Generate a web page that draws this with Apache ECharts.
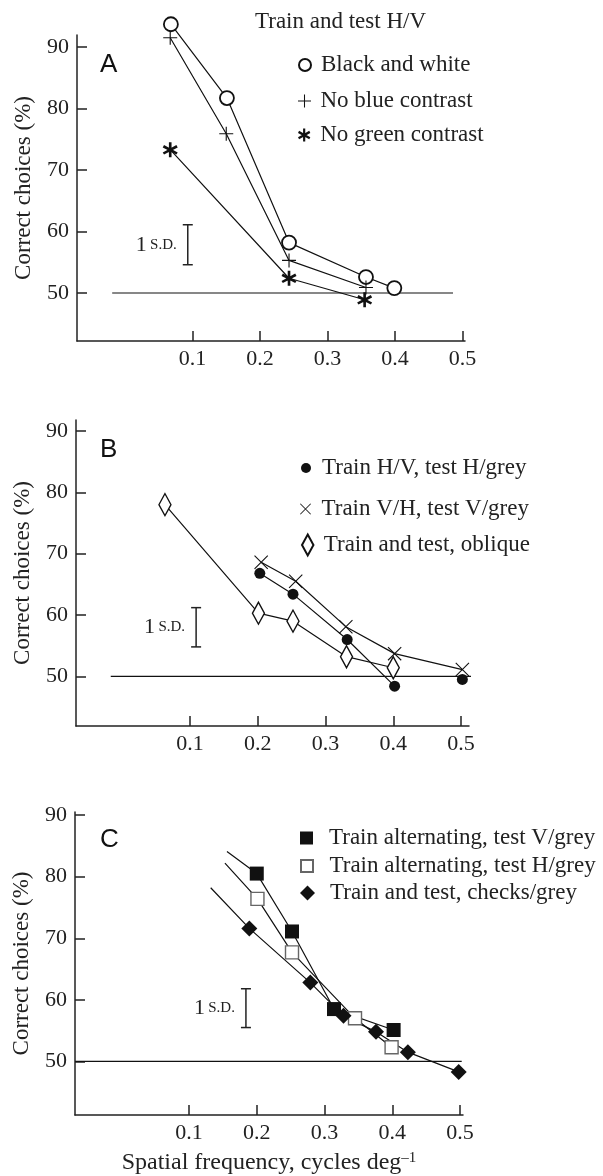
<!DOCTYPE html>
<html>
<head>
<meta charset="utf-8">
<script src="https://cdn.jsdelivr.net/npm/echarts@6/dist/echarts.min.js"></script>
<style>
html, body { margin: 0; padding: 0; background: #fff; }
#chart { width: 603px; height: 1176px; }
</style>
</head>
<body>
<div id="chart"></div>
<script>
// tick values
var xTicks = [0.1, 0.2, 0.3, 0.4, 0.5];
var yTicks = [50, 60, 70, 80, 90];

// panel A: train and test H/V
var bwA = [[0.068, 93.7], [0.151, 81.7], [0.243, 58.2], [0.357, 52.6], [0.399, 50.8]];
var noBlueA = [[0.067, 91.5], [0.150, 75.9], [0.243, 55.3], [0.357, 50.9]];
var noGreenA = [[0.067, 73.3], [0.243, 52.4], [0.355, 48.9]];
var chanceA = [[-0.019, 50], [0.486, 50]];
var sdA = [0.093, 61.1, 54.6];

// panel B
var hvB = [[0.203, 66.8], [0.252, 63.4], [0.332, 56.0], [0.402, 48.4], [0.502, 49.5]];
var vhB = [[0.205, 68.6], [0.256, 65.5], [0.330, 58.1], [0.402, 53.7], [0.502, 51.1]];
var obliqueB = [[0.063, 78.0], [0.201, 60.3], [0.252, 59.0], [0.331, 53.2], [0.400, 51.4]];
var chanceB = [[-0.017, 50], [0.547, 50]];
var sdB = [0.109, 61.2, 54.8];

// panel C
var altVC = [[0.200, 80.5], [0.252, 71.1], [0.314, 58.5], [0.402, 55.1]];
var altHC = [[0.201, 76.4], [0.252, 67.7], [0.345, 57.0], [0.399, 52.3]];
var checksC = [[0.189, 71.6], [0.279, 62.8], [0.328, 57.4], [0.376, 54.8], [0.423, 51.5], [0.498, 48.3]];
// where the fitted lines start, up-left of the first marks
var altVLead = [0.156, 84.1];
var altHLead = [0.153, 82.2];
var checksLead = [0.132, 78.2];
var chanceC = [[-0.068, 50], [0.5025, 50]];
var sdC = [0.184, 61.8, 55.5];

var serif = 'Liberation Serif';
var ink = '#222';

// symbols
var plusPath = 'path://M9.2,0h1.6v9.2h9.2v1.6h-9.2v9.2h-1.6v-9.2h-9.2v-1.6h9.2z';
var crossPath = 'path://M0,1.1L1.1,0L20,18.9L18.9,20Z M18.9,0L20,1.1L1.1,20L0,18.9Z';
var starPath = 'path://M8.5,1L11.5,1L11.5,19L8.5,19Z M2.96,4.2L18.54,13.2L17.04,15.8L1.46,7.3Z M18.54,7.3L2.96,15.8L1.46,13.2L17.04,4.2Z';
var squarePath = 'path://M0,0h10v10h-10z';
var diamondPath = 'path://M5,0L10,5L5,10L0,5Z';
var tallDiamondPath = 'path://M6,0L12,11L6,22L0,11Z';

var chart = echarts.init(document.getElementById('chart'));

function xAxisFor(i, min, max, extra) {
    return Object.assign({
        type: 'value', gridIndex: i, min: min, max: max,
        axisLine: { show: true, onZero: false, lineStyle: { color: ink, width: 1.5 } },
        axisTick: { show: true, inside: true, length: 10, customValues: xTicks, lineStyle: { color: ink, width: 1.5 } },
        axisLabel: { customValues: xTicks, formatter: function (v) { return v.toFixed(1); }, margin: 7, fontSize: 22, color: ink, fontFamily: serif },
        splitLine: { show: false }
    }, extra || {});
}

function yAxisFor(i, min, max) {
    return {
        type: 'value', gridIndex: i, min: min, max: max,
        name: 'Correct choices (%)', nameLocation: 'middle', nameGap: 42,
        nameTextStyle: { fontSize: 23, fontFamily: serif, color: ink },
        axisLine: { show: true, onZero: false, lineStyle: { color: ink, width: 1.5 } },
        axisTick: { show: true, inside: true, length: 10, customValues: yTicks, lineStyle: { color: ink, width: 1.5 } },
        axisLabel: { customValues: yTicks, margin: 8, fontSize: 22, color: ink, fontFamily: serif },
        splitLine: { show: false }
    };
}

function lineSeries(i, data) {
    return {
        type: 'line', xAxisIndex: i, yAxisIndex: i, data: data, symbol: 'none',
        lineStyle: { color: '#111', width: 1.2 }, clip: false, silent: true, z: 2
    };
}

function markSeries(i, name, data, symbol, size, fill, border, bw) {
    return {
        type: 'scatter', name: name, xAxisIndex: i, yAxisIndex: i, data: data,
        symbol: symbol, symbolSize: size,
        itemStyle: { color: fill, borderColor: border, borderWidth: bw, opacity: 1 },
        clip: false, z: 3
    };
}

function sdSeries(i, d) {
    return {
        type: 'custom', xAxisIndex: i, yAxisIndex: i, data: [d], clip: false, silent: true,
        encode: { x: 0, y: [1, 2] },
        renderItem: function (params, api) {
            var top = api.coord([api.value(0), api.value(1)]);
            var bot = api.coord([api.value(0), api.value(2)]);
            var st = { stroke: ink, lineWidth: 1.5 };
            return {
                type: 'group',
                children: [
                    { type: 'line', shape: { x1: top[0], y1: top[1], x2: bot[0], y2: bot[1] }, style: st },
                    { type: 'line', shape: { x1: top[0] - 5, y1: top[1], x2: top[0] + 5, y2: top[1] }, style: st },
                    { type: 'line', shape: { x1: bot[0] - 5, y1: bot[1], x2: bot[0] + 5, y2: bot[1] }, style: st },
                    {
                        type: 'text', x: top[0] - 11, y: (top[1] + bot[1]) / 2,
                        style: {
                            text: '{n|1} {s|S.D.}', align: 'right', verticalAlign: 'middle', fill: ink,
                            rich: {
                                n: { fontSize: 22, fontFamily: serif, fill: ink },
                                s: { fontSize: 15, fontFamily: serif, fill: ink }
                            }
                        }
                    }
                ]
            };
        }
    };
}

function legendItem(name, left, cy, w, h) {
    return {
        data: [name], left: left, top: cy - 12, itemWidth: w, itemHeight: h,
        padding: 0, selectedMode: false,
        textStyle: { fontSize: 23, fontFamily: serif, color: ink, lineHeight: 24 }
    };
}

var option = {
    animation: false,
    backgroundColor: '#fff',
    textStyle: { fontFamily: serif },
    title: {
        text: 'Train and test H/V', left: 255, top: 10, padding: 0,
        textStyle: { fontSize: 23, fontWeight: 'normal', fontFamily: serif, color: ink }
    },
    grid: [
        { left: 77, top: 35, width: 388, height: 306 },
        { left: 76, top: 420, width: 393, height: 306 },
        { left: 75, top: 812, width: 388, height: 304 }
    ],
    xAxis: [
        xAxisFor(0, -0.0711, 0.5037),
        xAxisFor(1, -0.0683, 0.5118),
        xAxisFor(2, -0.0683, 0.5044, {
            name: '{m|Spatial frequency, cycles deg}{s|–1}', nameLocation: 'middle', nameGap: 36,
            nameTextStyle: {
                rich: {
                    m: { fontSize: 24, fontFamily: serif, color: ink },
                    s: { fontSize: 15, fontFamily: serif, color: ink, verticalAlign: 'top' }
                }
            }
        })
    ],
    yAxis: [
        yAxisFor(0, 42.2, 91.95),
        yAxisFor(1, 41.9, 91.8),
        yAxisFor(2, 41.3, 90.5)
    ],
    legend: [
        legendItem('Black and white', 298, 65, 22, 12),
        legendItem('No blue contrast', 298, 101, 22, 13),
        legendItem('No green contrast', 298, 135, 22, 13),
        legendItem('Train H/V, test H/grey', 301, 468, 22, 10),
        legendItem('Train V/H, test V/grey', 300, 509, 22, 11),
        legendItem('Train and test, oblique', 301, 545, 22, 21),
        legendItem('Train alternating, test V/grey', 300, 838, 35, 13),
        legendItem('Train alternating, test H/grey', 300, 866, 35, 12),
        legendItem('Train and test, checks/grey', 300, 893, 35, 15)
    ],
    graphic: [
        { type: 'text', left: 100, top: 52, style: { text: 'A', font: '26px "Liberation Sans"', fill: '#111' } },
        { type: 'text', left: 100, top: 437, style: { text: 'B', font: '26px "Liberation Sans"', fill: '#111' } },
        { type: 'text', left: 100, top: 827, style: { text: 'C', font: '26px "Liberation Sans"', fill: '#111' } }
    ],
    series: [
        // A
        lineSeries(0, chanceA),
        lineSeries(0, bwA),
        lineSeries(0, noBlueA),
        lineSeries(0, noGreenA),
        markSeries(0, 'Black and white', bwA, 'circle', 14, '#fff', '#111', 1.8),
        markSeries(0, 'No blue contrast', noBlueA, plusPath, 14, '#111', '#111', 0),
        markSeries(0, 'No green contrast', noGreenA, starPath, 15, '#111', '#111', 0),
        sdSeries(0, sdA),
        // B
        lineSeries(1, chanceB),
        lineSeries(1, hvB.slice(0, 4)),
        lineSeries(1, vhB),
        lineSeries(1, obliqueB),
        markSeries(1, 'Train H/V, test H/grey', hvB, 'circle', 11, '#111', '#111', 0),
        markSeries(1, 'Train V/H, test V/grey', vhB, crossPath, 14, '#111', '#111', 0),
        markSeries(1, 'Train and test, oblique', obliqueB, tallDiamondPath, [12, 22], '#fff', '#111', 1.5),
        sdSeries(1, sdB),
        // C
        lineSeries(2, chanceC),
        lineSeries(2, [altVLead].concat(altVC)),
        lineSeries(2, [altHLead].concat(altHC)),
        lineSeries(2, [checksLead].concat(checksC)),
        markSeries(2, 'Train alternating, test V/grey', altVC, squarePath, 14, '#111', '#111', 0),
        markSeries(2, 'Train alternating, test H/grey', altHC, squarePath, 13, '#fff', '#666', 1.4),
        markSeries(2, 'Train and test, checks/grey', checksC, diamondPath, 16, '#111', '#111', 0),
        sdSeries(2, sdC)
    ]
};

chart.setOption(option);
</script>
</body>
</html>
